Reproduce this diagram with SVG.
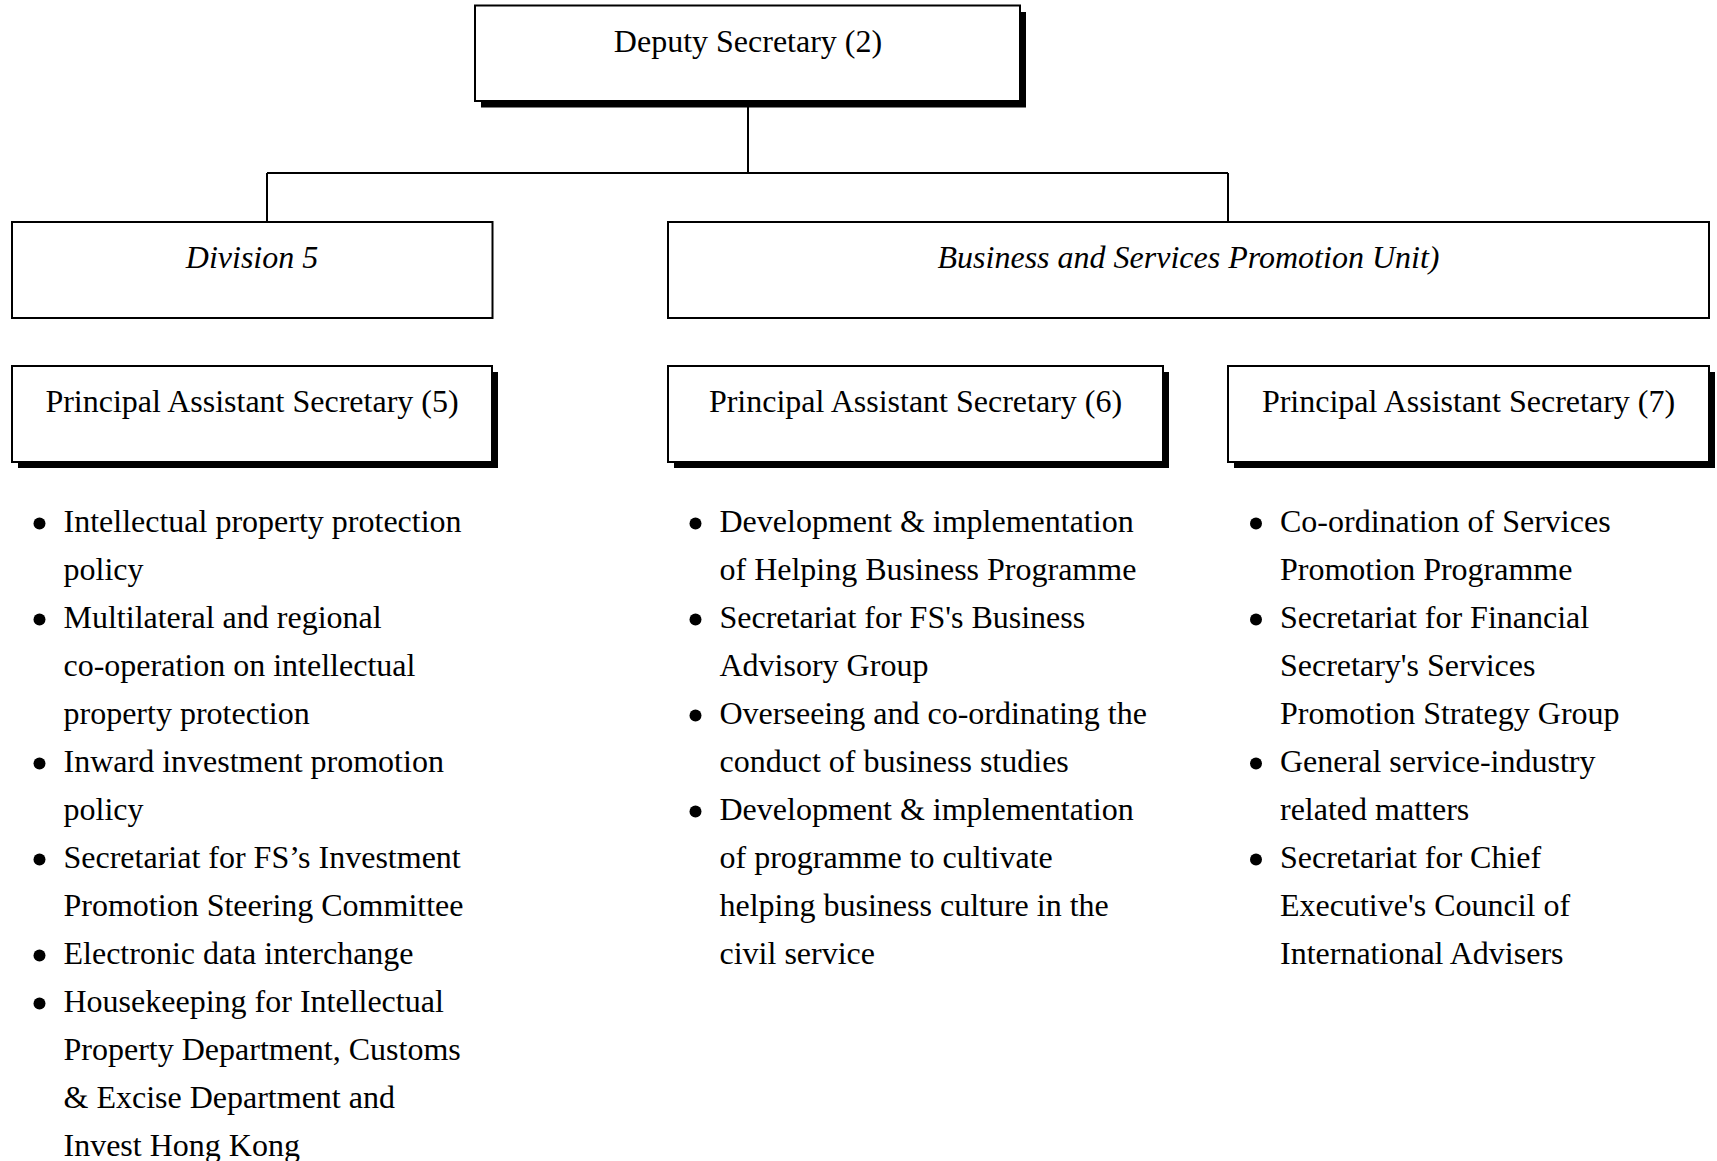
<svg xmlns="http://www.w3.org/2000/svg" width="1717" height="1161" viewBox="0 0 1717 1161">
  <style>
    .box { fill: #fff; stroke: #000; stroke-width: 2; }
    .shadow { fill: #000; stroke: none; }
    .conn { fill: none; stroke: #000; stroke-width: 2; }
    text { font-family: "Liberation Serif", "Times New Roman", serif; font-size: 32px; fill: #000; }
    .title { text-anchor: middle; }
    .it { font-style: italic; }
    .dot { fill: #000; }
  </style>
  <rect width="1717" height="1161" fill="#fff"/>

  <!-- connectors -->
  <g id="connectors">
    <line class="conn" x1="748" y1="101" x2="748" y2="173"/>
    <line class="conn" x1="267" y1="173" x2="1228" y2="173"/>
    <line class="conn" x1="267" y1="173" x2="267" y2="222"/>
    <line class="conn" x1="1228" y1="173" x2="1228" y2="222"/>
  </g>

  <g id="deputy-secretary">
    <rect class="shadow" x="481" y="12" width="545" height="95.5"/>
    <rect class="box" x="475" y="5.5" width="545" height="95.5"/>
    <text class="title" x="748" y="51.5">Deputy Secretary (2)</text>
  </g>

  <g id="division-5">
    <rect class="box" x="12" y="222" width="480.5" height="96"/>
    <text class="title it" x="252" y="268">Division 5</text>
  </g>

  <g id="bspu">
    <rect class="box" x="668" y="222" width="1041" height="96"/>
    <text class="title it" x="1188.5" y="268">Business and Services Promotion Unit)</text>
  </g>

  <g id="pas-5">
    <rect class="shadow" x="18" y="372" width="480" height="96"/>
    <rect class="box" x="12" y="366" width="480" height="96"/>
    <text class="title" x="252" y="412">Principal Assistant Secretary (5)</text>
  </g>

  <g id="pas-6">
    <rect class="shadow" x="674" y="372" width="495" height="96"/>
    <rect class="box" x="668" y="366" width="495" height="96"/>
    <text class="title" x="915.5" y="412">Principal Assistant Secretary (6)</text>
  </g>

  <g id="pas-7">
    <rect class="shadow" x="1234" y="372" width="481" height="96"/>
    <rect class="box" x="1228" y="366" width="481" height="96"/>
    <text class="title" x="1468.5" y="412">Principal Assistant Secretary (7)</text>
  </g>

  <!-- duties of PAS (5) -->
  <g id="duties-5">
    <circle class="dot" cx="39.5" cy="523.5" r="6"/>
    <circle class="dot" cx="39.5" cy="619.5" r="6"/>
    <circle class="dot" cx="39.5" cy="763.5" r="6"/>
    <circle class="dot" cx="39.5" cy="859.5" r="6"/>
    <circle class="dot" cx="39.5" cy="955.5" r="6"/>
    <circle class="dot" cx="39.5" cy="1003.5" r="6"/>
    <text x="63.5" y="531.5">Intellectual property protection</text>
    <text x="63.5" y="579.5">policy</text>
    <text x="63.5" y="627.5">Multilateral and regional</text>
    <text x="63.5" y="675.5">co-operation on intellectual</text>
    <text x="63.5" y="723.5">property protection</text>
    <text x="63.5" y="771.5">Inward investment promotion</text>
    <text x="63.5" y="819.5">policy</text>
    <text x="63.5" y="867.5">Secretariat for FS’s Investment</text>
    <text x="63.5" y="915.5">Promotion Steering Committee</text>
    <text x="63.5" y="963.5">Electronic data interchange</text>
    <text x="63.5" y="1011.5">Housekeeping for Intellectual</text>
    <text x="63.5" y="1059.5">Property Department, Customs</text>
    <text x="63.5" y="1107.5">&amp; Excise Department and</text>
    <text x="63.5" y="1155.5">Invest Hong Kong</text>
  </g>

  <!-- duties of PAS (6) -->
  <g id="duties-6">
    <circle class="dot" cx="695.5" cy="523.5" r="6"/>
    <circle class="dot" cx="695.5" cy="619.5" r="6"/>
    <circle class="dot" cx="695.5" cy="715.5" r="6"/>
    <circle class="dot" cx="695.5" cy="811.5" r="6"/>
    <text x="719.5" y="531.5">Development &amp; implementation</text>
    <text x="719.5" y="579.5">of Helping Business Programme</text>
    <text x="719.5" y="627.5">Secretariat for FS's Business</text>
    <text x="719.5" y="675.5">Advisory Group</text>
    <text x="719.5" y="723.5">Overseeing and co-ordinating the</text>
    <text x="719.5" y="771.5">conduct of business studies</text>
    <text x="719.5" y="819.5">Development &amp; implementation</text>
    <text x="719.5" y="867.5">of programme to cultivate</text>
    <text x="719.5" y="915.5">helping business culture in the</text>
    <text x="719.5" y="963.5">civil service</text>
  </g>

  <!-- duties of PAS (7) -->
  <g id="duties-7">
    <circle class="dot" cx="1256" cy="523.5" r="6"/>
    <circle class="dot" cx="1256" cy="619.5" r="6"/>
    <circle class="dot" cx="1256" cy="763.5" r="6"/>
    <circle class="dot" cx="1256" cy="859.5" r="6"/>
    <text x="1280" y="531.5">Co-ordination of Services</text>
    <text x="1280" y="579.5">Promotion Programme</text>
    <text x="1280" y="627.5">Secretariat for Financial</text>
    <text x="1280" y="675.5">Secretary's Services</text>
    <text x="1280" y="723.5">Promotion Strategy Group</text>
    <text x="1280" y="771.5">General service-industry</text>
    <text x="1280" y="819.5">related matters</text>
    <text x="1280" y="867.5">Secretariat for Chief</text>
    <text x="1280" y="915.5">Executive's Council of</text>
    <text x="1280" y="963.5">International Advisers</text>
  </g>
</svg>
